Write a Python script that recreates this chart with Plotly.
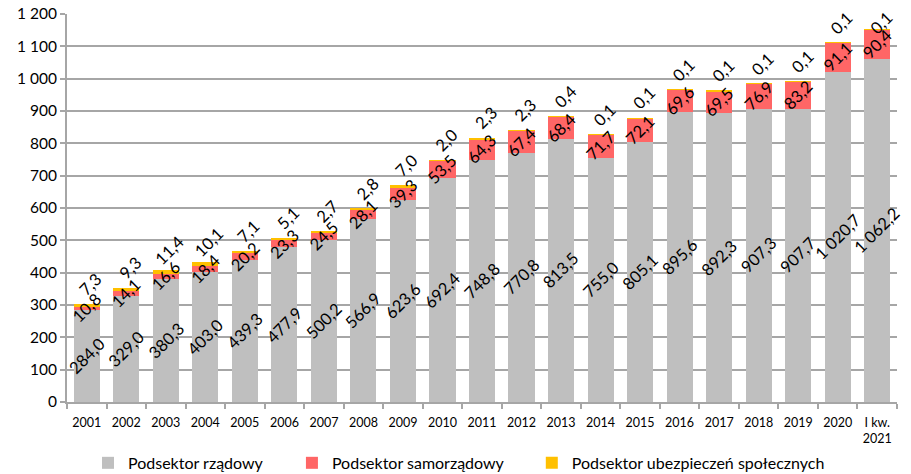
import plotly.graph_objects as go

categories = ["2001", "2002", "2003", "2004", "2005", "2006", "2007", "2008", "2009", "2010",
              "2011", "2012", "2013", "2014", "2015", "2016", "2017", "2018", "2019", "2020",
              "I kw.<br>2021"]
rzadowy = [284.0, 329.0, 380.3, 403.0, 439.3, 477.9, 500.2, 566.9, 623.6, 692.4,
           748.8, 770.8, 813.5, 755.0, 805.1, 895.6, 892.3, 907.3, 907.7, 1020.7, 1062.2]
samorzadowy = [10.8, 14.1, 16.6, 18.4, 20.2, 23.3, 24.5, 28.1, 39.3, 53.5,
               64.3, 67.4, 68.4, 71.7, 72.1, 69.6, 69.5, 76.9, 83.2, 91.1, 90.4]
ubezpieczen = [7.3, 9.3, 11.4, 10.1, 7.1, 5.1, 2.7, 2.8, 7.0, 2.0,
               2.3, 2.3, 0.4, 0.1, 0.1, 0.1, 0.1, 0.1, 0.1, 0.1, 0.1]
yticks = [0, 100, 200, 300, 400, 500, 600, 700, 800, 900, 1000, 1100, 1200]
ytick_labels = ["0", "100", "200", "300", "400", "500", "600", "700", "800", "900",
                "1 000", "1 100", "1 200"]

FONT = "Lato"
C_GOV = "#BFBFBF"
C_LOC = "#FF6666"
C_SOC = "#FFC000"
C_LINE = "#A6A6A6"

Y_MAX = 1200
PLOT_TOP, PLOT_H = 14, 388


def fmt(v):
    s = f"{v:.1f}".replace(".", ",")
    whole, dec = s.split(",")
    if len(whole) > 3:
        whole = whole[:-3] + " " + whole[-3:]
    return whole + "," + dec


fig = go.Figure()
fig.add_trace(go.Bar(name="Podsektor rządowy", x=categories, y=rzadowy, legend="legend",
                     marker=dict(color=C_GOV, line=dict(width=0))))
fig.add_trace(go.Bar(name="Podsektor samorządowy", x=categories, y=samorzadowy, legend="legend2",
                     marker=dict(color=C_LOC, line=dict(width=0))))
fig.add_trace(go.Bar(name="Podsektor ubezpieczeń społecznych", x=categories, y=ubezpieczen,
                     legend="legend3", marker=dict(color=C_SOC, line=dict(width=0))))

annotations = []
lab_font = dict(family=FONT, size=16.5, color="#000000")
for i, (g, l, s) in enumerate(zip(rzadowy, samorzadowy, ubezpieczen)):
    total = g + l + s
    annotations.append(dict(x=i, y=g / 2, text=fmt(g), showarrow=False, textangle=-45,
                            font=lab_font, xanchor="center", yanchor="middle"))
    annotations.append(dict(x=i, y=g + l / 2, text=fmt(l), showarrow=False, textangle=-45,
                            font=lab_font, xanchor="center", yanchor="middle"))
    # keep the outside label inside the chart: shift less when the bar is near the top
    top_px = PLOT_TOP + (Y_MAX - total) * PLOT_H / Y_MAX
    shift = min(20, top_px - 23)
    annotations.append(dict(x=i, y=total, text=fmt(s), showarrow=False, textangle=-45,
                            font=lab_font, xanchor="center", yanchor="middle",
                            yshift=shift, xshift=4))

leg_common = dict(orientation="h", xanchor="left", y=-0.157, yanchor="middle",
                  font=dict(family=FONT, size=16, color="#000000"), itemwidth=30,
                  bgcolor="rgba(0,0,0,0)")

fig.update_layout(
    barmode="stack",
    bargap=0.34,
    width=911, height=474,
    margin=dict(l=67, r=14, t=PLOT_TOP, b=474 - PLOT_TOP - PLOT_H, autoexpand=False),
    plot_bgcolor="white", paper_bgcolor="white",
    font=dict(family=FONT, color="#000000"),
    showlegend=True,
    legend=dict(x=0.0253, **leg_common),
    legend2=dict(x=0.271, **leg_common),
    legend3=dict(x=0.560, **leg_common),
    annotations=annotations,
)
fig.update_xaxes(
    type="category", range=[-0.5, len(categories) - 0.5], autorange=False, automargin=False,
    showline=True, linecolor=C_LINE, linewidth=2,
    ticks="outside", tickson="boundaries", ticklen=5, tickcolor=C_LINE, tickwidth=2,
    ticklabelstandoff=8,
    tickfont=dict(family=FONT, size=12.5, color="#000000"), showgrid=False, tickangle=0,
)
fig.update_yaxes(
    range=[0, Y_MAX], autorange=False, automargin=False, tickvals=yticks, ticktext=ytick_labels,
    showline=True, linecolor=C_LINE, linewidth=2,
    showgrid=True, gridcolor=C_LINE, gridwidth=2,
    ticks="outside", ticklen=5, tickcolor=C_LINE, tickwidth=2,
    tickfont=dict(family=FONT, size=15.5, color="#000000"), zeroline=False,
)

fig.write_html("out.html", config={"displayModeBar": False},
               post_script="document.body.style.margin='0px';")
